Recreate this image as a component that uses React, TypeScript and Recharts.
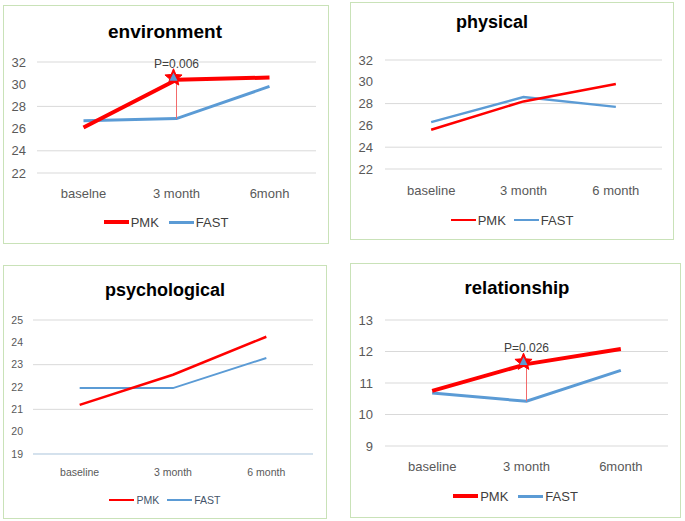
import React from 'react';
import { LineChart, Line, XAxis, YAxis, CartesianGrid, Legend, ReferenceDot, ReferenceLine } from 'recharts';

// environment
const envCategories = ['baselne', '3 month', '6monh'];
const envPmk = [26.1, 30.4, 30.6];
const envFast = [26.7, 26.9, 29.8];
const envTicks = [22, 24, 26, 28, 30, 32];

// physical
const phyCategories = ['baseline', '3 month', '6 month'];
const phyPmk = [25.6, 28.2, 29.8];
const phyFast = [26.3, 28.6, 27.7];
const phyTicks = [22, 24, 26, 28, 30, 32];

// psychological
const psyCategories = ['baseline', '3 month', '6 month'];
const psyPmk = [21.2, 22.55, 24.25];
const psyFast = [21.95, 21.95, 23.3];
const psyTicks = [19, 20, 21, 22, 23, 24, 25];

// relationship
const relCategories = ['baseline', '3 month', '6month'];
const relPmk = [10.75, 11.6, 12.08];
const relFast = [10.68, 10.42, 11.4];
const relTicks = [9, 10, 11, 12, 13];

const RED = '#FF0000';
const BLUE = '#5B9BD5';
const GRID = '#D9D9D9';
const TEXT = '#595959';
const FONT = '"Liberation Sans", Arial, sans-serif';

const toRows = (cats: string[], pmk: number[], fast: number[]) =>
  cats.map((c, i) => ({ name: c, PMK: pmk[i], FAST: fast[i] }));

const Star = (props: any) => {
  const { cx, cy } = props;
  if (cx == null || cy == null) return null;
  const x0 = cx - 3;
  const y0 = cy - 2;
  const pts: string[] = [];
  for (let i = 0; i < 10; i++) {
    const r = i % 2 === 0 ? 9 : 4;
    const a = -Math.PI / 2 + (i * Math.PI) / 5;
    pts.push(`${x0 + r * Math.cos(a)},${y0 + r * Math.sin(a)}`);
  }
  return (
    <g>
      <polygon points={pts.join(' ')} fill={RED} stroke={RED} strokeWidth={1} />
      <polygon points={`${x0},${y0 - 5} ${x0 - 4},${y0 + 3} ${x0 + 4},${y0 + 3}`} fill={BLUE} />
    </g>
  );
};

type PanelProps = {
  left: number;
  top: number;
  width: number;
  height: number;
  title: string;
  titleX: number;
  titleY: number;
  titleSize: number;
  rows: { name: string; PMK: number; FAST: number }[];
  ticks: number[];
  plot: { left: number; right: number; top: number; bottom: number };
  tickSize: number;
  tickGap: number;
  xGap: number;
  pmkWidth: number;
  fastWidth: number;
  legendY: number;
  legendSize: number;
  legendColor: string;
  legendGap: number;
  axisColor?: string;
  pValue?: string;
};

const Panel = (p: PanelProps) => {
  const w = p.width - 2;
  const h = p.height - 2;
  const plotW = p.plot.right - p.plot.left;
  const pad = plotW / 6;
  const mid = p.rows[1];
  const legendContent = () => (
    <div
      style={{
        display: 'flex',
        justifyContent: 'center',
        alignItems: 'center',
        fontFamily: FONT,
        fontSize: p.legendSize,
        color: p.legendColor,
        height: 16,
      }}
    >
      {[
        { label: 'PMK', color: RED, sw: p.pmkWidth },
        { label: 'FAST', color: BLUE, sw: p.fastWidth },
      ].map((it, i) => (
        <span key={it.label} style={{ display: 'flex', alignItems: 'center', marginLeft: i ? p.legendGap : 0 }}>
          <span style={{ display: 'inline-block', width: 25, height: it.sw, background: it.color, marginRight: 2 }} />
          {it.label}
        </span>
      ))}
    </div>
  );
  return (
    <div
      style={{
        position: 'absolute',
        left: p.left,
        top: p.top,
        width: w,
        height: h,
        border: '1px solid #C9E2B8',
        background: '#fff',
      }}
    >
      <div
        style={{
          position: 'absolute',
          left: p.titleX,
          top: p.titleY,
          transform: 'translate(-50%, -50%)',
          fontFamily: FONT,
          fontWeight: 'bold',
          fontSize: p.titleSize,
          color: '#000',
          whiteSpace: 'nowrap',
        }}
      >
        {p.title}
      </div>
      <div style={{ position: 'absolute', left: 0, top: 0 }}>
        <LineChart
          width={w}
          height={h}
          data={p.rows}
          margin={{ top: p.plot.top, right: w - p.plot.right, left: 0, bottom: h - p.plot.bottom - 40 }}
        >
          <CartesianGrid horizontal vertical={false} stroke={GRID} />
          <XAxis
            dataKey="name"
            height={40}
            padding={{ left: pad, right: pad }}
            tickLine={false}
            tickSize={0}
            tickMargin={p.xGap}
            axisLine={p.axisColor ? { stroke: p.axisColor } : false}
            tick={{ fill: TEXT, fontSize: p.tickSize, fontFamily: FONT }}
            interval={0}
          />
          <YAxis
            width={p.plot.left}
            domain={[p.ticks[0], p.ticks[p.ticks.length - 1]]}
            ticks={p.ticks}
            tickLine={false}
            tickSize={0}
            tickMargin={p.tickGap}
            axisLine={false}
            tick={{ fill: TEXT, fontSize: p.tickSize, fontFamily: FONT }}
            allowDataOverflow
          />
          <Legend
            verticalAlign="middle"
            layout="horizontal"
            align="center"
            wrapperStyle={{ top: p.legendY - 8, left: 0, width: w }}
            content={legendContent}
          />
          <Line
            type="linear"
            dataKey="FAST"
            stroke={BLUE}
            strokeWidth={p.fastWidth}
            dot={false}
            activeDot={false}
            isAnimationActive={false}
          />
          <Line
            type="linear"
            dataKey="PMK"
            stroke={RED}
            strokeWidth={p.pmkWidth}
            dot={false}
            activeDot={false}
            isAnimationActive={false}
          />
          {p.pValue && (
            <ReferenceLine
              segment={[
                { x: mid.name, y: mid.PMK },
                { x: mid.name, y: mid.FAST },
              ]}
              stroke="#F26B6B"
              strokeWidth={1}
            />
          )}
          {p.pValue && (
            <ReferenceDot
              x={mid.name}
              y={mid.PMK}
              r={8}
              shape={Star}
              label={{ value: p.pValue, position: 'top', offset: 4, fill: '#404040', fontSize: 12, fontFamily: FONT }}
            />
          )}
        </LineChart>
      </div>
    </div>
  );
};

export default function App() {
  return (
    <div style={{ position: 'absolute', left: 0, top: 0, width: 685, height: 521, background: '#fff' }}>
      <Panel
        left={3}
        top={5}
        width={326}
        height={239}
        title="environment"
        titleX={161}
        titleY={26}
        titleSize={19}
        rows={toRows(envCategories, envPmk, envFast)}
        ticks={envTicks}
        plot={{ left: 33, right: 312, top: 56, bottom: 167 }}
        tickSize={13}
        tickGap={11}
        xGap={16}
        pmkWidth={4}
        fastWidth={3}
        legendY={216}
        legendSize={13}
        legendColor="#404040"
        legendGap={10}
        pValue="P=0.006"
      />
      <Panel
        left={350}
        top={2}
        width={324}
        height={238}
        title="physical"
        titleX={141}
        titleY={19}
        titleSize={18}
        rows={toRows(phyCategories, phyPmk, phyFast)}
        ticks={phyTicks}
        plot={{ left: 34, right: 311, top: 57, bottom: 166 }}
        tickSize={13}
        tickGap={12}
        xGap={17}
        pmkWidth={2.5}
        fastWidth={2.5}
        legendY={217}
        legendSize={13}
        legendColor="#404040"
        legendGap={8}
      />
      <Panel
        left={3}
        top={265}
        width={324}
        height={254}
        title="psychological"
        titleX={161}
        titleY={24}
        titleSize={18}
        rows={toRows(psyCategories, psyPmk, psyFast)}
        ticks={psyTicks}
        plot={{ left: 29, right: 309, top: 54, bottom: 188 }}
        tickSize={10.5}
        tickGap={10}
        xGap={15}
        pmkWidth={2.5}
        fastWidth={2}
        legendY={234}
        legendSize={10.5}
        legendColor="#44546A"
        legendGap={8}
        axisColor="#BDD7EE"
      />
      <Panel
        left={350}
        top={263}
        width={331}
        height={255}
        title="relationship"
        titleX={166}
        titleY={24}
        titleSize={18.5}
        rows={toRows(relCategories, relPmk, relFast)}
        ticks={relTicks}
        plot={{ left: 34, right: 317, top: 56, bottom: 182 }}
        tickSize={13}
        tickGap={12}
        xGap={16}
        pmkWidth={4}
        fastWidth={3}
        legendY={232}
        legendSize={13}
        legendColor="#404040"
        legendGap={10}
        pValue="P=0.026"
      />
    </div>
  );
}
